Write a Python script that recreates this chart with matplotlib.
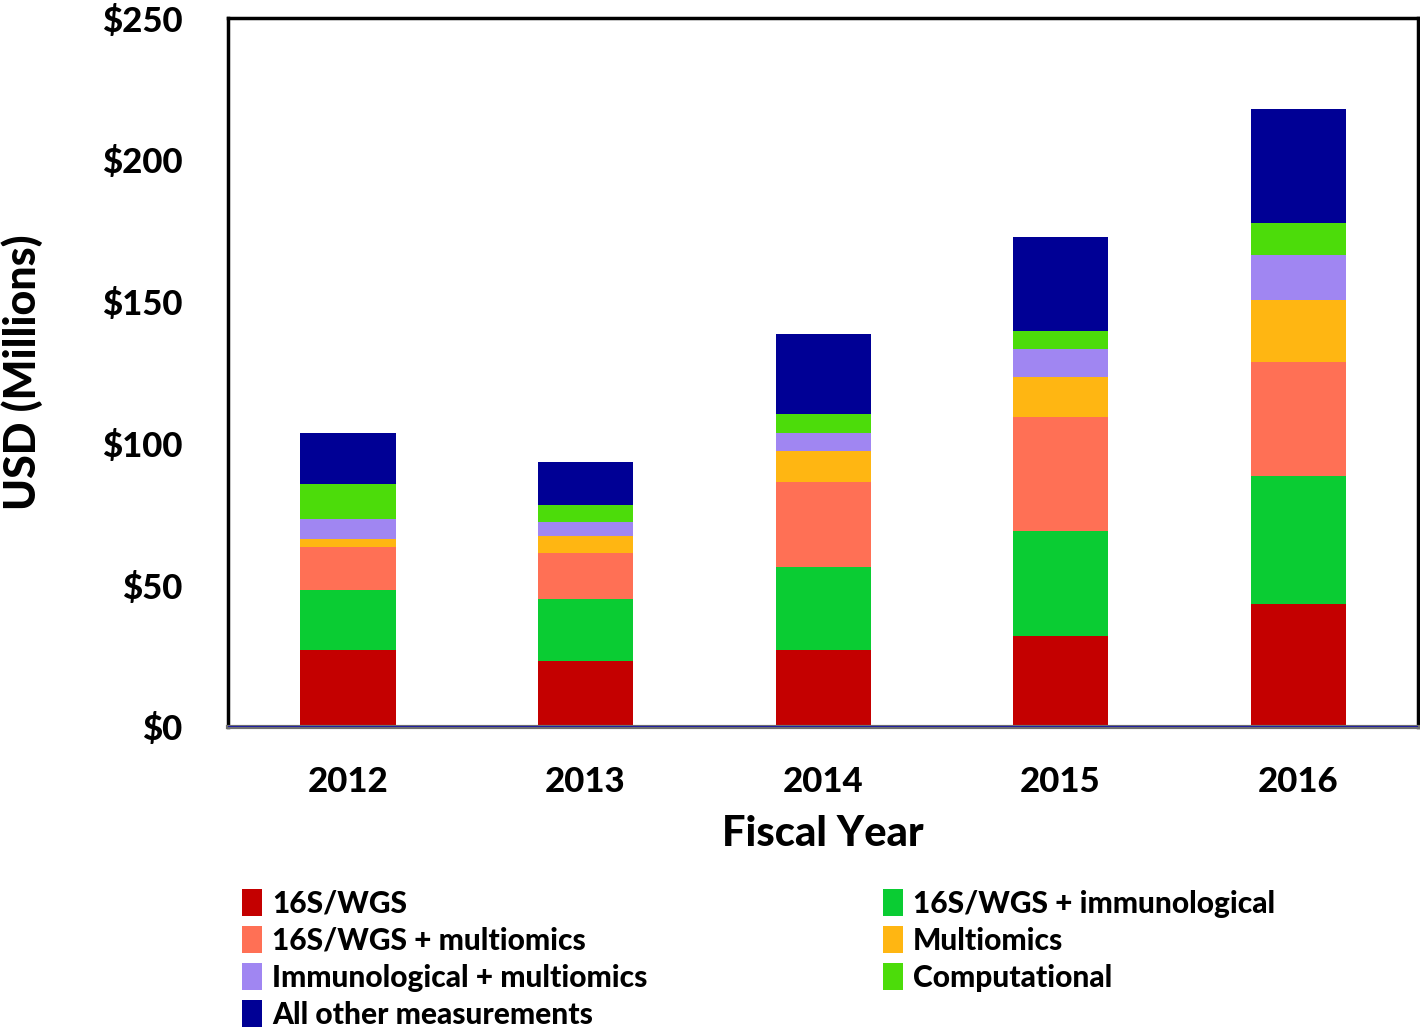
import numpy as np
import matplotlib
matplotlib.use('Agg')
import matplotlib.pyplot as plt
from matplotlib.patches import Patch

plt.rcParams['font.family'] = ['Lato', 'DejaVu Sans']
plt.rcParams['font.weight'] = 'black'

# ---- data (USD millions, per segment) ----
years = ['2012', '2013', '2014', '2015', '2016']
categories = ['16S/WGS', '16S/WGS + immunological', '16S/WGS + multiomics',
              'Multiomics', 'Immunological + multiomics', 'Computational',
              'All other measurements']
wgs        = [27.3, 23.4, 27.3, 32.2, 43.2]
wgs_immuno = [21.0, 21.8, 29.1, 37.0, 45.4]
wgs_multi  = [15.2, 16.2, 30.1, 40.2, 40.0]
multiomics = [2.8, 5.9, 10.9, 14.1, 21.9]
immuno_multi = [6.9, 5.0, 6.2, 9.9, 16.1]
computational = [12.4, 5.9, 6.8, 6.1, 11.0]
other      = [18.0, 15.3, 28.3, 33.3, 40.3]
yticks = [0, 50, 100, 150, 200, 250]

series = [wgs, wgs_immuno, wgs_multi, multiomics, immuno_multi, computational, other]
colors = ['#C40000', '#0ACC33', '#FF7055', '#FFB612', '#A086F2', '#4CDC0A', '#000095']

fig = plt.figure(figsize=(14.2, 10.3), dpi=100)
ax = fig.add_axes([0.1606, 0.2942, 0.838, 0.6883])

x = np.arange(len(years))
bottom = np.zeros(len(years))
for vals, col in zip(series, colors):
    ax.bar(x, vals, width=0.4, bottom=bottom, color=col, edgecolor='none', zorder=2)
    bottom += np.array(vals)

ax.axhline(0, color='#2020A0', linewidth=1.5, zorder=3)

ax.set_xlim(-0.505, 4.505)
ax.set_ylim(0, 250)
ax.set_yticks(yticks)
ax.set_yticklabels([f'${v}' for v in yticks])
ax.set_xticks(x)
ax.set_xticklabels(years)
ax.tick_params(axis='both', length=0, labelsize=25)
ax.tick_params(axis='y', pad=33)
ax.tick_params(axis='x', pad=28)

for side in ['left', 'top', 'right']:
    ax.spines[side].set_linewidth(2.5)
    ax.spines[side].set_color('black')
ax.spines['bottom'].set_linewidth(3)
ax.spines['bottom'].set_color('#707070')

ax.set_xlabel('Fiscal Year', fontsize=30, fontweight='black', labelpad=12)
ax.set_ylabel('USD (Millions)', fontsize=31, fontweight='black', labelpad=42)

# legend filled column-wise -> reorder so it reads row-wise
order = [0, 2, 4, 6, 1, 3, 5]
handles = [Patch(facecolor=colors[i], edgecolor='none', label=categories[i]) for i in order]
fig.legend(handles=handles, loc='upper left', bbox_to_anchor=(0.160, 0.151),
           ncol=2, frameon=False, fontsize=21.5, handlelength=0.65, handleheight=1.0,
           handletextpad=0.35, columnspacing=7.9, labelspacing=0.28, borderpad=0)

fig.savefig('out.png', dpi=100, facecolor='white')
